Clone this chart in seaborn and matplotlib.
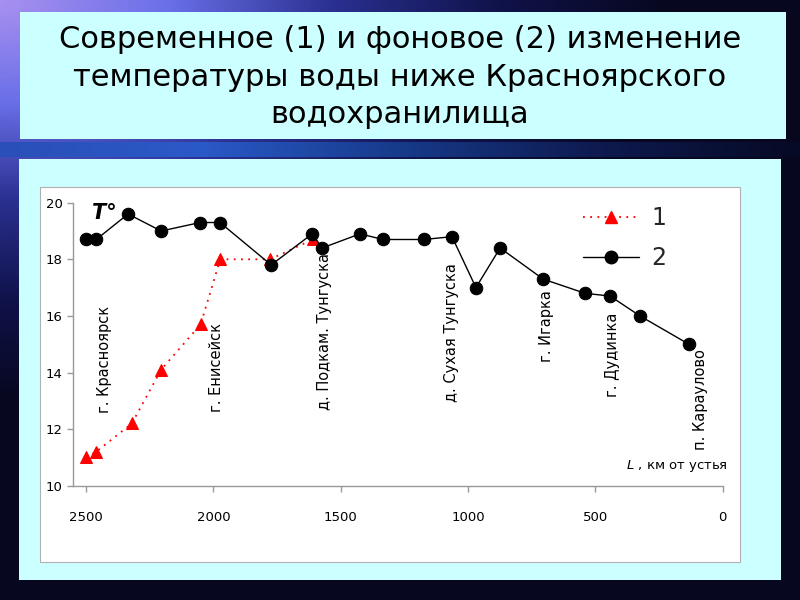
import matplotlib.pyplot as plt
import seaborn as sns
import pandas as pd
import numpy as np
from matplotlib.patches import Rectangle
from matplotlib.lines import Line2D

# Distance from river mouth (km) and water temperature
km_1 = [2500, 2460, 2320, 2205, 2050, 1973, 1777, 1610]
temp_1 = [11.0, 11.2, 12.2, 14.1, 15.7, 18.0, 18.0, 18.7]

km_2 = [2500, 2460, 2335, 2205, 2052, 1974, 1773, 1612, 1573, 1424, 1334,
        1173, 1063, 969, 874, 705, 541, 442, 325, 133]
temp_2 = [18.7, 18.7, 19.6, 19.0, 19.3, 19.3, 17.8, 18.9, 18.4, 18.9, 18.7,
          18.7, 18.8, 17.0, 18.4, 17.3, 16.8, 16.7, 16.0, 15.0]

# Settlements along the river
places = ['г. Красноярск', 'г. Енисейск', 'д. Подкам. Тунгуска', 'д. Сухая Тунгуска',
          'г. Игарка', 'г. Дудинка', 'п. Караулово']
place_km = [2428, 1987, 1565, 1064, 691, 431, 89]
place_y = [12.57, 12.61, 12.67, 12.97, 14.38, 13.14, 11.26]

title = 'Современное (1) и фоновое (2) изменение\nтемпературы воды ниже Красноярского\nводохранилища'

sns.set_theme(style='white')
plt.rcParams['font.family'] = ['DejaVu Sans']

df1 = pd.DataFrame({'km': km_1, 'T': temp_1})
df2 = pd.DataFrame({'km': km_2, 'T': temp_2})

fig = plt.figure(figsize=(8, 6), dpi=100)

# slide background
bg = fig.add_axes([0, 0, 1, 1], zorder=-10)
yy, xx = np.mgrid[0:1:300j, 0:1:400j]
dist = np.clip(np.sqrt((xx * 1.2) ** 2 + (yy * 1.5) ** 2), 0, 1)
bg_cmap = sns.blend_palette(['#a890f0', '#6a70e8', '#2a3090', '#10124a', '#07081f'], as_cmap=True)
bg.imshow(dist, cmap=bg_cmap, aspect='auto', extent=[0, 1, 0, 1], origin='upper', zorder=0)
bg.set_xlim(0, 1)
bg.set_ylim(0, 1)
bg.axis('off')

def box(x0, y0, x1, y1, color, ec='none', z=2):
    # pixel box from top-left coords
    bg.add_patch(Rectangle((x0 / 800, 1 - y1 / 600), (x1 - x0) / 800, (y1 - y0) / 600,
                           facecolor=color, edgecolor=ec, lw=0.8, zorder=z))

# bar under title
bar = np.linspace(0, 1, 200).reshape(1, -1)
bar_cmap = sns.blend_palette(['#2b4fb8', '#2a5ac8', '#173a8a', '#0e1a50', '#070a25'], as_cmap=True)
bg.imshow(bar, cmap=bar_cmap, aspect='auto', extent=[0, 1, 1 - 157 / 600, 1 - 142 / 600], zorder=1)
box(20, 12, 786, 139, '#ccffff')
box(19, 159, 781, 580, '#ccffff')
box(40, 187, 740, 562, 'white', ec='#b0b0b0', z=3)

fig.text(0.5, 1 - 77 / 600, title, ha='center', va='center', fontsize=22,
         family='DejaVu Sans', color='black', linespacing=1.38)

ax = fig.add_axes([73.3 / 800, 1 - 485.7 / 600, 649.4 / 800, 283 / 600])
ax.patch.set_alpha(0)

sns.lineplot(data=df1, x='km', y='T', ax=ax, sort=False, color='red', lw=1.3,
             dashes=False, marker='^', markersize=8, markeredgecolor='red')
ax.lines[-1].set_dashes([1, 3])
sns.lineplot(data=df2, x='km', y='T', ax=ax, sort=False, color='black', lw=1,
             marker='o', markersize=9, markeredgecolor='black')

ax.set_xlim(2550, 0)
ax.set_ylim(10, 20)
ax.set_xticks([2500, 2000, 1500, 1000, 500, 0])
ax.set_yticks([10, 12, 14, 16, 18, 20])
ax.set_xlabel('')
ax.set_ylabel('')
for s in ['top', 'right']:
    ax.spines[s].set_visible(False)
for s in ['left', 'bottom']:
    ax.spines[s].set_color('#999999')
    ax.spines[s].set_linewidth(1)
ax.tick_params(axis='both', direction='out', length=4, width=1, color='#999999',
               labelsize=9.5, labelcolor='black', left=True, bottom=True)
ax.tick_params(axis='x', pad=14)

for name, x, y in zip(places, place_km, place_y):
    ax.text(x, y, name, rotation=90, ha='center', va='bottom', fontsize=10.5, color='black')

ax.text(2478, 19.62, 'T°', ha='left', va='center', fontsize=15, fontweight='bold',
        fontstyle='italic', color='black')
ax.text(-20, 10.68, '$\\it{L}$ , км от устья', ha='right', va='center', fontsize=9.5, color='black')

h1 = Line2D([], [], color='red', lw=1.3, marker='^', markersize=8)
h1.set_dashes([1, 3])
h2 = Line2D([], [], color='black', lw=1, marker='o', markersize=9)
ax.legend([h1, h2], ['1', '2'], loc='upper left', bbox_to_anchor=(0.77, 1.02), frameon=False,
          fontsize=17, handlelength=2.4, labelspacing=0.65, handletextpad=0.5, borderaxespad=0)

fig.savefig('out.png', dpi=100)
